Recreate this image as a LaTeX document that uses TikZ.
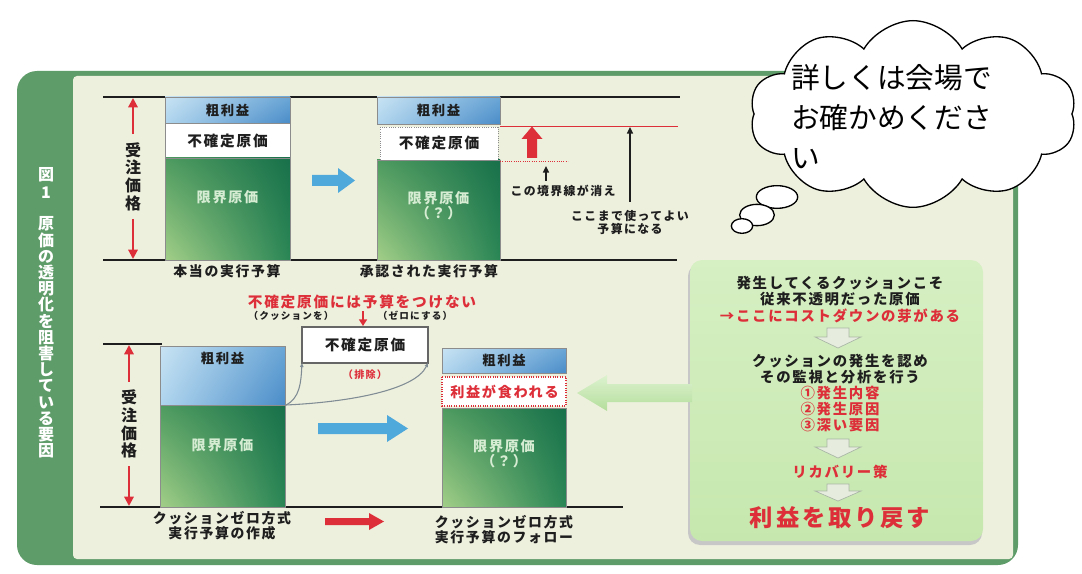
\documentclass[tikz,border=0pt]{standalone}
\usepackage{fontspec}
\setmainfont{Noto Sans CJK JP}[LetterSpace=12]
\newfontfamily\cloudfont{Noto Sans CJK JP}
\usetikzlibrary{arrows.meta,shapes.symbols,shadings}
\newcommand\fsz[2]{\fontsize{#1pt}{#2pt}\selectfont}
\definecolor{panelgreen}{HTML}{5E9C69}
\definecolor{cream}{HTML}{EEF0DE}
\definecolor{grossUL}{HTML}{C8E3F3}
\definecolor{grossLL}{HTML}{AFD5EE}
\definecolor{grossUR}{HTML}{6AA6D6}
\definecolor{grossLR}{HTML}{4A8CC8}
\definecolor{margUL}{HTML}{4E9B60}
\definecolor{margLL}{HTML}{A3CF88}
\definecolor{margUR}{HTML}{17704A}
\definecolor{margLR}{HTML}{2A8655}
\definecolor{paletxt}{HTML}{D6ECD3}
\definecolor{redc}{HTML}{DD2F3A}
\definecolor{bluearr}{HTML}{4FA9DA}
\definecolor{boxgreen}{HTML}{C6E8AE}
\definecolor{boxgreenL}{HTML}{D6EFC3}
\definecolor{arrgreenT}{HTML}{DDF2CF}
\definecolor{arrgreenB}{HTML}{B4DE9C}
\definecolor{downfill}{HTML}{E6EDDF}
\definecolor{downedge}{HTML}{A9B5A5}
\definecolor{curvec}{HTML}{7F8C93}
\definecolor{txt}{HTML}{1E1E1E}
\tikzset{
  every node/.style={inner sep=0pt, outer sep=0pt},
  hline/.style={line width=1.5pt, draw=txt},
  barline/.style={draw=black!45, line width=0.4pt},
  grossband/.style={upper left=grossUL, lower left=grossLL, upper right=grossUR, lower right=grossLR},
  margband/.style={upper left=margUL, lower left=margLL, upper right=margUR, lower right=margLR},
  title/.style={text=white, font=\bfseries\fsz{12}{12.15}, align=center},
  vlabel/.style={text=txt, font=\bfseries\fsz{12}{13.3}, align=center},
  grosslbl/.style={text=txt, font=\bfseries\fsz{10}{11}},
  uclbl/.style={text=txt, font=\bfseries\fsz{11}{12}},
  marglbl/.style={text=paletxt, font=\bfseries\fsz{10.6}{11.25}, align=center},
  caplbl/.style={text=txt, font=\bfseries\fsz{10.4}{11.25}, align=center},
  smalllbl/.style={text=txt, font=\bfseries\fsz{8.9}{9.75}, align=center},
  parlbl/.style={text=txt, font=\bfseries\fsz{7.2}{8}},
  redlbl/.style={text=redc, font=\bfseries\fsz{11}{12}},
  boxtxt/.style={text=txt, font=\bfseries\fsz{10.8}{12}},
  boxred/.style={text=redc, font=\bfseries\fsz{10.8}{12}},
  redarr/.style={draw=redc, line width=1.6pt, -{Triangle[width=7pt,length=7pt]}},
  blkarr/.style={draw=txt, line width=1.1pt, -{Triangle[width=4.5pt,length=5pt]}},
  curveline/.style={draw=curvec, line width=0.8pt, -{Triangle[width=2.5pt,length=3pt]}},
  downarr/.style={fill=downfill, draw=downedge, line width=0.5pt},
}
\begin{document}
\begin{tikzpicture}[x=0.75pt,y=-0.75pt]
\useasboundingbox (0,0) rectangle (1082,574);
\fill[white] (0,0) rectangle (1082,574);
% panel
\fill[panelgreen, rounded corners=15pt] (17,71) rectangle (1018,565);
\fill[cream, rounded corners=3pt] (73,76) rectangle (1013,559);
% title strip
\node[title] (fig) at (46,175) {図};
\node[title] (fignum) at (46,192.5) {1};
\node[title] (ttl) at (46,337.5) {原\\価\\の\\透\\明\\化\\を\\阻\\害\\し\\て\\い\\る\\要\\因};

% ================= top section
\draw[hline] (103,97) -- (680,97);
\draw[hline] (103,260) -- (677,260);
% order price arrow
\node[vlabel] (jt) at (133,176.5) {受\\注\\価\\格};
\coordinate (jtTop) at (133,98);
\coordinate (jtBot) at (133,259);
\draw[redarr, shorten <=6pt] (jt.north) -- (jtTop);
\draw[redarr, shorten <=6pt] (jt.south) -- (jtBot);
% bar 1
\shade[grossband] (165,97) rectangle (290,123);
\fill[white] (165,123) rectangle (290,158);
\shade[margband] (165,158) rectangle (290,260);
\draw[barline] (165,97) rectangle (290,260);
\draw[barline] (165,123) -- (290,123) (165,158) -- (290,158);
\node[grosslbl] (b1g) at (227.5,110) {粗利益};
\node[uclbl] (b1u) at (227.5,141) {不確定原価};
\node[marglbl] (b1m) at (227.5,197) {限界原価};
% blue arrow
\fill[bluearr] (312,175) -- (338,175) -- (338,168) -- (355,180.5) -- (338,193) -- (338,186) -- (312,186) -- cycle;
% bar 2
\shade[grossband] (377,97) rectangle (500,124);
\shade[margband] (377,160) rectangle (500,260);
\fill[white] (380,127) rectangle (498,160);
\draw[draw=black!45, densely dotted, line width=0.7pt] (380,127) rectangle (498,160);
\draw[barline] (377,97) rectangle (500,124);
\draw[barline] (377,160) rectangle (500,260);
\node[grosslbl] (b2g) at (438.5,110.5) {粗利益};
\node[uclbl] (b2u) at (439,143) {不確定原価};
\node[marglbl] (b2m) at (438.5,205.5) {限界原価\\（？）};
% red boundary lines
\draw[redc, line width=0.5pt] (500,126) -- (678,126);
\draw[redc, densely dotted, line width=0.7pt] (500,161) -- (568,161);
% red up arrow
\fill[redc] (527,158) -- (527,139) -- (521.5,139) -- (532,126.5) -- (542.5,139) -- (537,139) -- (537,158) -- cycle;
% small black arrow + label
\coordinate (sa1) at (546,181);
\coordinate (sa2) at (546,166);
\draw[blkarr] (sa1) -- (sa2);
\node[smalllbl] (kie) at (563,190.5) {この境界線が消え};
% long black arrow + label
\node[smalllbl] (koko) at (630,222) {ここまで使ってよい\\予算になる};
\coordinate (kokoTop) at (630,127);
\draw[blkarr, shorten <=6pt] (koko.north) -- (kokoTop);
% captions
\node[caplbl] (c1) at (227,271.5) {本当の実行予算};
\node[caplbl] (c2) at (429,271.5) {承認された実行予算};

% ================= bottom section
\node[redlbl] (hd) at (362,302) {不確定原価には予算をつけない};
\node[parlbl] (hk) at (291,315.5) {（クッションを）};
\node[parlbl] (hz) at (415,315.5) {（ゼロにする）};
\coordinate (dnA) at (363,311);
\coordinate (dnB) at (363,326);
\draw[draw=redc, line width=1.4pt, -{Triangle[width=6pt,length=5pt]}] (dnA) -- (dnB);
\node[draw=black!60, line width=1pt, fill=white, minimum width=94.5pt, minimum height=27pt, font=\bfseries\fsz{11}{12}, text=txt] (ub) at (365,345) {不確定原価};
\node[parlbl, text=redc, font=\bfseries\fsz{7.6}{8}] (hj) at (365,374.5) {（排除）};

\draw[hline] (103,344) -- (162,344);
\draw[hline] (100,507) -- (623,507);
\node[vlabel] (jb) at (129,424) {受\\注\\価\\格};
\coordinate (jbTop) at (129,345);
\coordinate (jbBot) at (129,506);
\draw[redarr, shorten <=6pt] (jb.north) -- (jbTop);
\draw[redarr, shorten <=6pt] (jb.south) -- (jbBot);
% bar 3
\shade[grossband] (160,346) rectangle (285,405);
\shade[margband] (160,405) rectangle (285,507);
\draw[barline] (160,346) rectangle (285,507);
\draw[barline] (160,405) -- (285,405);
\node[grosslbl] (b3g) at (222.5,358.5) {粗利益};
\node[marglbl] (b3m) at (222.5,445) {限界原価};
% curves to removed box
\coordinate (cc) at (286,405);
\draw[curveline] (cc) .. controls (300,398) and (301,382) .. (ub.south west);
\draw[curveline] (cc) .. controls (350,402) and (415,390) .. (ub.south east);
% blue arrow
\fill[bluearr] (318,423) -- (387,423) -- (387,415) -- (408,428.5) -- (387,442) -- (387,434) -- (318,434) -- cycle;
% bar 4
\shade[grossband] (442,348) rectangle (566,373);
\shade[margband] (442,408) rectangle (566,507);
\fill[white] (442,377) rectangle (566,406);
\draw[draw=redc, densely dotted, line width=0.8pt] (442,377) rectangle (566,406);
\draw[barline] (442,348) rectangle (566,373);
\draw[barline] (442,408) rectangle (566,507);
\node[grosslbl] (b4g) at (504,360.5) {粗利益};
\node[redlbl, font=\bfseries\fsz{10.6}{12}] (b4e) at (504.5,391.5) {利益が食われる};
\node[marglbl] (b4m) at (504,453.5) {限界原価\\（？）};
% captions
\node[caplbl] (c3) at (222,526) {クッションゼロ方式\\実行予算の作成};
\node[caplbl] (c4) at (504,530) {クッションゼロ方式\\実行予算のフォロー};
\fill[redc] (325,518) -- (369,518) -- (369,513) -- (384,521.5) -- (369,530) -- (369,525) -- (325,525) -- cycle;

% ================= right green box
\fill[black!22, rounded corners=9pt] (688,264) rectangle (982,545);
\shade[top color=boxgreenL, bottom color=boxgreen, rounded corners=9pt] (690,260) rectangle (983,541);
\shade[top color=arrgreenT, bottom color=arrgreenB] (692,384) -- (607,384) -- (607,375) -- (577,393) -- (607,411) -- (607,402) -- (692,402) -- cycle;
\node[boxtxt, align=center] (g1) at (840,291.5) {発生してくるクッションこそ\\従来不透明だった原価};
\node[boxred] (g2) at (840,315.5) {→ここにコストダウンの芽がある};
\filldraw[downarr] (827,328) -- (849,328) -- (849,337) -- (861,337) -- (838,348) -- (815,337) -- (827,337) -- cycle;
\node[boxtxt, align=center] (g3) at (840,369.5) {クッションの発生を認め\\その監視と分析を行う};
\node[boxred, align=center] (g4) at (840,409) {①発生内容\\②発生原因\\③深い要因};
\filldraw[downarr] (827,439) -- (849,439) -- (849,447) -- (861,447) -- (838,458) -- (815,447) -- (827,447) -- cycle;
\node[boxred] (g5) at (840,472) {リカバリー策};
\filldraw[downarr] (827,484) -- (849,484) -- (849,491) -- (861,491) -- (838,501) -- (815,491) -- (827,491) -- cycle;
\node[boxred, font=\bfseries\fsz{17.5}{19}] (g6) at (840,518) {利益を取り戻す};

% ================= cloud
\node[cloud, draw=black, fill=white, line width=1pt, cloud puffs=10, cloud puff arc=120, aspect=1.75, minimum width=245pt, minimum height=140pt] (cloud) at (913,114) {};
\draw[black, fill=white, line width=1pt] (777,197) ellipse [x radius=15.5pt, y radius=8.5pt];
\draw[black, fill=white, line width=1pt] (757,215) ellipse [x radius=13pt, y radius=8pt];
\draw[black, fill=white, line width=1pt] (742,226) ellipse [x radius=8pt, y radius=5.5pt];
\node[anchor=west, align=left, text=black, font=\cloudfont\fsz{21.5}{30}] (ctext) at (791,117) {詳しくは会場で\\お確かめくださ\\い};
\end{tikzpicture}
\end{document}
